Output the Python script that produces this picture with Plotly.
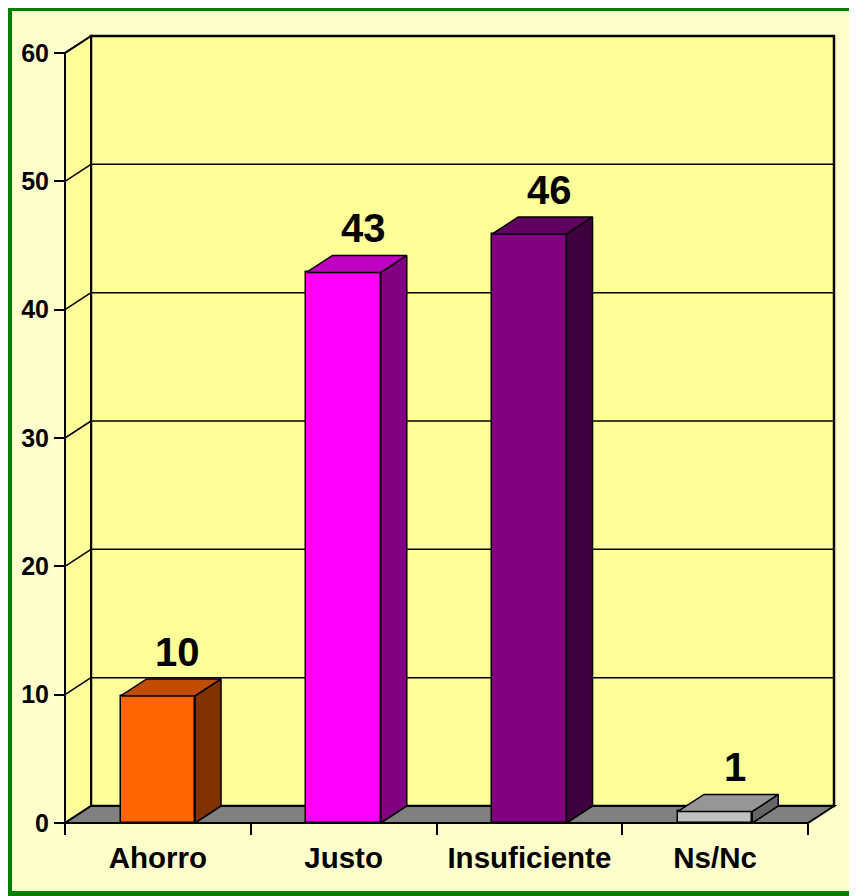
import plotly.graph_objects as go

# ---------------- data ----------------
categories = ["Ahorro", "Justo", "Insuficiente", "Ns/Nc"]
values = [9.9, 42.9, 45.9, 0.9]
value_labels = ["10", "43", "46", "1"]
front_colors = ["#FF6600", "#FF00FF", "#800080", "#C0C0C0"]
top_colors = ["#C04C00", "#C000C0", "#600060", "#969696"]
side_colors = ["#803300", "#800080", "#400040", "#666666"]
y_ticks = [0, 10, 20, 30, 40, 50, 60]

# ---------------- geometry ----------------
W, H = 857, 896
OFF = 8                  # page body margin in the browser
PX_CAT = 185.75          # pixels per category
PX_UNIT = 12.833         # pixels per y unit
DEPTH_X = 26 / PX_CAT    # 3D depth offset in x data units
DEPTH_Y = 17 / PX_UNIT   # 3D depth offset in y data units
BAR_W = 0.4
PAD = 5
YMAX = 60
N = len(categories)
FONT = "Liberation Sans, Arial, sans-serif"

FRONT_X = 65 - OFF
FRONT_Y = 823 - OFF

x_lo = -0.5 - PAD / PX_CAT
x_hi = N - 0.5 + DEPTH_X + PAD / PX_CAT
y_lo = -PAD / PX_UNIT
y_hi = YMAX + DEPTH_Y + PAD / PX_UNIT
plot_w = (x_hi - x_lo) * PX_CAT
plot_h = (y_hi - y_lo) * PX_UNIT
L = FRONT_X - PAD
B = H - (FRONT_Y + PAD)
R = W - L - plot_w
T = H - B - plot_h

fig = go.Figure()

fig.add_trace(go.Bar(
    x=list(range(N)), y=values, width=BAR_W,
    marker=dict(color=front_colors, line=dict(color="black", width=1.5)),
    showlegend=False, hoverinfo="skip",
))

for i, (v, tc, sc) in enumerate(zip(values, top_colors, side_colors)):
    xl, xr = i - BAR_W / 2, i + BAR_W / 2
    fig.add_trace(go.Scatter(
        x=[xr, xr + DEPTH_X, xr + DEPTH_X, xr, xr],
        y=[0, DEPTH_Y, v + DEPTH_Y, v, 0],
        fill="toself", fillcolor=sc, mode="lines",
        line=dict(color="black", width=1.5),
        showlegend=False, hoverinfo="skip", xaxis="x2",
    ))
    fig.add_trace(go.Scatter(
        x=[xl, xr, xr + DEPTH_X, xl + DEPTH_X, xl],
        y=[v, v, v + DEPTH_Y, v + DEPTH_Y, v],
        fill="toself", fillcolor=tc, mode="lines",
        line=dict(color="black", width=1.5),
        showlegend=False, hoverinfo="skip", xaxis="x2",
    ))

shapes = []
x0w, x1w = -0.5, N - 0.5
shapes.append(dict(type="rect", xref="x", yref="y", layer="below",
                   x0=x0w + DEPTH_X, x1=x1w + DEPTH_X, y0=DEPTH_Y, y1=YMAX + DEPTH_Y,
                   fillcolor="#FFFF99", line=dict(color="black", width=2.5)))
shapes.append(dict(type="path", xref="x", yref="y", layer="below",
                   path=f"M {x0w},0 L {x0w + DEPTH_X},{DEPTH_Y} L {x0w + DEPTH_X},{YMAX + DEPTH_Y} L {x0w},{YMAX} Z",
                   fillcolor="#FFFF99", line=dict(color="black", width=2)))
for v in y_ticks[1:]:
    if v < YMAX:
        shapes.append(dict(type="line", xref="x", yref="y", layer="below",
                           x0=x0w + DEPTH_X, x1=x1w + DEPTH_X, y0=v + DEPTH_Y, y1=v + DEPTH_Y,
                           line=dict(color="black", width=1.5)))
    shapes.append(dict(type="line", xref="x", yref="y", layer="below",
                       x0=x0w, x1=x0w + DEPTH_X, y0=v, y1=v + DEPTH_Y,
                       line=dict(color="black", width=1.5)))
shapes.append(dict(type="path", xref="x", yref="y", layer="below",
                   path=f"M {x0w},0 L {x1w},0 L {x1w + DEPTH_X},{DEPTH_Y} L {x0w + DEPTH_X},{DEPTH_Y} Z",
                   fillcolor="#808080", line=dict(color="black", width=2)))


def page_x(px):
    return (px - OFF - L) / plot_w


def page_y(py):
    return (H - B - (py - OFF)) / plot_h


# green frame: left, top and bottom edges (right edge lies outside the picture)
fx0, fx1 = page_x(9), page_x(900)
fy0, fy1 = page_y(894), page_y(8)
shapes.append(dict(type="path", xref="paper", yref="paper",
                   path=f"M {fx1},{fy1} L {fx0},{fy1} L {fx0},{fy0} L {fx1},{fy0}",
                   line=dict(color="#008000", width=6)))

annotations = []
for i, (v, lab) in enumerate(zip(values, value_labels)):
    annotations.append(dict(x=i + 0.107, y=v + DEPTH_Y, xref="x", yref="y",
                            text=lab, showarrow=False, yanchor="bottom", yshift=3,
                            font=dict(family=FONT, size=40, color="black", weight="bold")))

axis_x_pos = page_y(823)
axis_y_pos = page_x(65)

fig.update_layout(
    width=W, height=H,
    margin=dict(l=L, r=R, t=T, b=B, pad=0),
    paper_bgcolor="#FFFFCC", plot_bgcolor="#FFFFCC",
    shapes=shapes, annotations=annotations,
    bargap=0,
    xaxis=dict(range=[x_lo, x_hi], anchor="free", position=axis_x_pos,
               tickvals=[k - 0.5 for k in range(N + 1)], ticks="outside", ticklen=11,
               tickwidth=1.5, tickcolor="black", showticklabels=False,
               showgrid=False, zeroline=False, showline=False, fixedrange=True),
    xaxis2=dict(range=[x_lo, x_hi], overlaying="x", anchor="free", position=axis_x_pos,
                side="bottom", tickvals=list(range(N)), ticktext=categories,
                ticks="outside", ticklen=9, tickcolor="rgba(0,0,0,0)",
                tickfont=dict(family=FONT, size=29.5, color="black", weight="bold"),
                showgrid=False, zeroline=False, showline=False, fixedrange=True),
    yaxis=dict(range=[y_lo, y_hi], anchor="free", position=axis_y_pos,
               tickvals=y_ticks, ticks="outside", ticklen=11, tickwidth=1.5,
               tickcolor="black",
               tickfont=dict(family=FONT, size=25, color="black", weight="bold"),
               showgrid=False, zeroline=False, showline=False, fixedrange=True),
)

fig.write_html("out.html")
